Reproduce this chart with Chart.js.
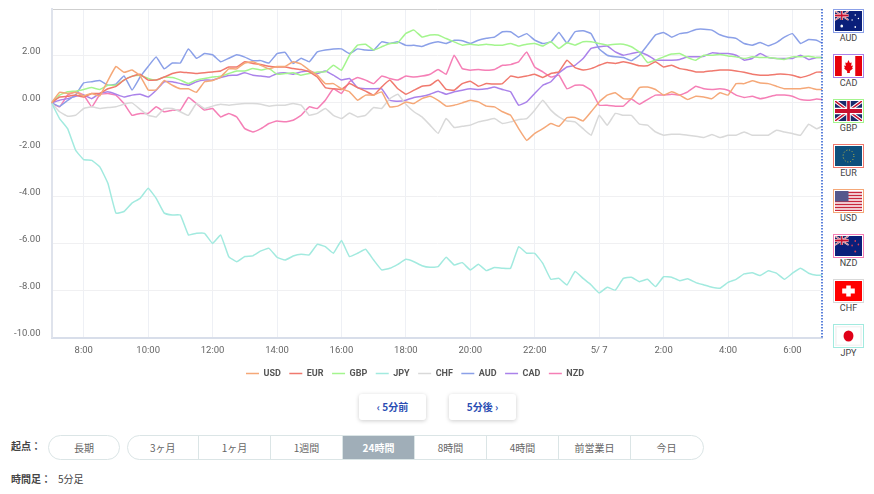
<!DOCTYPE html>
<html lang="ja">
<head>
<meta charset="utf-8">
<title>通貨強弱チャート</title>
<script src="https://cdn.jsdelivr.net/npm/chart.js"></script>
<style>
  html, body { margin: 0; padding: 0; background: #fff; overflow: hidden; }
  body { position: relative; width: 874px; height: 494px; font-family: "Noto Sans CJK JP", "Noto Sans", sans-serif; color: #555; font-size: 10px; }
  #chart { position: absolute; left: 0; top: 0; }
  .flag { position: absolute; left: 833px; width: 31px; text-align: center; }
  .flag svg { display: block; width: 27px; height: 20px; padding: 1px; border: 1px solid; background: #fff; }
  .flag span { display: block; font: 9px Roboto, sans-serif; color: #444; margin-top: -1px; line-height: 12px; }
  .btn { position: absolute; top: 394px; width: 67px; height: 26px; line-height: 25px; text-align: center; border-radius: 3px; background: #fff; box-shadow: 0 1px 4px rgba(0,0,0,.2); color: #2b4db3; font-weight: 700; }
  .lbl { position: absolute; left: 11px; font-weight: 700; color: #444; line-height: 14px; }
  .pill { position: absolute; top: 435px; height: 23px; border: 1px solid #dbe5e6; display: flex; box-sizing: content-box; line-height: 23px; text-align: center; color: #666; overflow: hidden; }
  .pill div { width: 71px; flex: none; border-right: 1px solid #dbe5e6; }
  .pill div:first-child { width: 70.5px; }
  .pill div:last-child { border-right: 0; }
  .pill .on { background: #a0aeb8; color: #fff; font-weight: 700; }
</style>
</head>
<body>
<canvas id="chart" width="826" height="388"></canvas>

<svg width="0" height="0" style="position:absolute">
  <defs>
    <g id="jack">
      <rect width="60" height="30" fill="#1a2a6c"/>
      <path d="M0 0L60 30M60 0L0 30" stroke="#fff" stroke-width="6"/>
      <path d="M0 0L60 30M60 0L0 30" stroke="#c8102e" stroke-width="2.4"/>
      <path d="M30 0V30M0 15H60" stroke="#fff" stroke-width="10"/>
      <path d="M30 0V30M0 15H60" stroke="#c8102e" stroke-width="6"/>
    </g>
  </defs>
</svg>

<div class="flag" style="top:9px"><svg viewBox="0 0 60 40" preserveAspectRatio="none" id="f0"><rect width="60" height="40" fill="#0a1f7a"/><g transform="scale(.5 .6)"><use href="#jack"/></g><g fill="#fff"><circle cx="15" cy="30" r="3"/><circle cx="45" cy="8" r="1.6"/><circle cx="38" cy="18" r="1.6"/><circle cx="52" cy="15" r="1.6"/><circle cx="45" cy="32" r="1.8"/></g></svg><span>AUD</span></div>
<div class="flag" style="top:54px"><svg viewBox="0 0 60 40" preserveAspectRatio="none"><rect width="60" height="40" fill="#fff"/><rect width="15" height="40" fill="#e8000b"/><rect x="45" width="15" height="40" fill="#e8000b"/><path d="M30 8l3 6 4-1-1 7 4-1-2 5 2 1-7 5v4h-6v-4l-7-5 2-1-2-5 4 1-1-7 4 1z" fill="#e8000b"/></svg><span>CAD</span></div>
<div class="flag" style="top:99px"><svg viewBox="0 0 60 30" preserveAspectRatio="none"><use href="#jack"/></svg><span>GBP</span></div>
<div class="flag" style="top:144px"><svg viewBox="0 0 60 40" preserveAspectRatio="none"><rect width="60" height="40" fill="#0d4f7c"/><circle cx="30" cy="20" r="12" fill="none" stroke="#d6c23a" stroke-width="2" stroke-dasharray="2 4.3"/></svg><span>EUR</span></div>
<div class="flag" style="top:189px"><svg viewBox="0 0 60 40" preserveAspectRatio="none"><rect width="60" height="40" fill="#fff"/><path d="M0 3H60M0 9H60M0 15H60M0 21H60M0 27H60M0 33H60M0 39H60" stroke="#c8283c" stroke-width="3"/><rect width="30" height="21" fill="#55588c"/></svg><span>USD</span></div>
<div class="flag" style="top:234px"><svg viewBox="0 0 60 40" preserveAspectRatio="none"><rect width="60" height="40" fill="#0a1f7a"/><g transform="scale(.5 .6)"><use href="#jack"/></g><g fill="#d8405a"><circle cx="45" cy="10" r="1.8"/><circle cx="38" cy="19" r="1.8"/><circle cx="52" cy="17" r="1.8"/><circle cx="45" cy="31" r="2.2"/></g></svg><span>NZD</span></div>
<div class="flag" style="top:279px"><svg viewBox="0 0 60 40" preserveAspectRatio="none"><rect width="60" height="40" fill="#f00"/><path d="M25 9h10v6h9v10h-9v6H25v-6h-9V15h9z" fill="#fff"/></svg><span>CHF</span></div>
<div class="flag" style="top:324px"><svg viewBox="0 0 60 40" preserveAspectRatio="none"><rect width="60" height="40" fill="#f4f4f4"/><rect x="4" y="3" width="52" height="34" fill="#fff"/><circle cx="30" cy="20" r="11" fill="#e00018"/></svg><span>JPY</span></div>

<div class="btn" style="left:359px">‹ 5分前</div>
<div class="btn" style="left:449px">5分後 ›</div>

<div class="lbl" style="top:439px">起点：</div>
<div class="pill" style="left:48px;width:70px;border-radius:13px"><div style="border:0;width:70px">長期</div></div>
<div class="pill" style="left:126.5px;width:575px;border-radius:13px">
  <div>3ヶ月</div><div>1ヶ月</div><div>1週間</div><div class="on">24時間</div><div>8時間</div><div>4時間</div><div>前営業日</div><div>今日</div>
</div>
<div class="lbl" style="top:472px">時間足：</div>
<div class="lbl" style="top:472px;left:58px;font-weight:400">5分足</div>

<script>
// minutes after 7:00, sampled every 15 min and the last 5 min bar
const times = [0,15,30,45,60,75,90,105,120,135,150,165,180,195,210,225,240,255,270,285,300,315,330,345,360,375,390,405,420,
  435,450,465,480,495,510,525,540,555,570,585,600,615,630,645,660,675,690,705,720,735,750,765,780,795,810,825,840,855,870,885,900,915,930,945,960,
  975,990,1005,1020,1035,1050,1065,1080,1095,1110,1125,1140,1155,1170,1185,1200,1215,1230,1245,1260,1275,1290,1305,1320,1335,1350,1365,1380,1395,1410,1425,1435];

const usdValues = [0,.45,.4,.45,.3,.4,.3,.95,1.55,1.3,1.4,1.15,.55,.55,.95,.75,.6,.6,.45,.9,.95,1.1,1.45,1.45,1.7,1.75,1.6,1.45,1.55,
  1.55,1.75,1.65,1.4,1.18,.82,.82,.6,.47,.11,.33,.33,.47,-.17,-.14,.04,-.03,.18,.28,.11,-.14,-.1,0,.11,.04,-.14,-.17,-.38,-.53,-1.1,-1.6,-1.3,-1.1,-.88,-1,-.63,
  -.62,-.77,-.38,.04,.33,.43,.18,.18,.65,.68,.57,.33,.47,.33,.14,.28,.25,.18,.43,.33,.82,.82,.94,.85,.82,.71,.6,.6,.6,.65,.57,.57];

const eurValues = [0,.25,.28,.33,.25,.4,.4,.6,.7,.97,1.13,1.22,.97,.97,1.1,1.25,1.32,1.28,1.25,1.28,1.32,1.36,1.53,1.53,1.75,1.68,1.63,1.56,1.53,
  1.53,1.46,1.42,1.32,1.1,.65,.6,.57,.82,.65,.5,.33,.68,.97,.6,.37,.54,.71,.75,.97,.57,.54,.82,.92,.71,.82,.8,.82,1.14,1.08,1.14,1.22,1.08,1.25,1.32,1.82,
  1.5,1.4,1.46,1.6,1.72,1.68,1.75,1.68,1.58,1.58,1.75,1.53,1.6,1.46,1.4,1.32,1.32,1.36,1.4,1.4,1.36,1.3,1.22,1.18,1.18,1.22,1.22,1.18,1.08,1.17,1.31,1.32];

const gbpValues = [0,.33,.47,.5,.57,.65,.57,.75,.75,.97,1.14,1.18,1.04,.97,1.1,1.08,.97,.82,.97,1.04,1.1,1.14,1.25,1.36,1.36,1.46,1.4,1.46,1.22,
  1.25,1.28,1.18,1.25,1.32,1.32,1.6,1.39,2.03,2.46,2.5,2.25,2.39,2.53,2.56,2.96,3.1,2.81,2.89,2.89,2.74,2.6,2.46,2.5,2.46,2.5,2.46,2.46,2.53,2.42,2.5,2.53,2.42,2.6,2.32,2.56,
  2.46,2.6,2.6,2.53,2.46,2.5,2.5,2.39,2.17,1.72,1.82,1.96,2.08,2.1,1.93,1.82,2.03,2.03,2.06,2,1.96,1.89,1.96,1.93,1.93,1.89,1.85,1.96,1.96,1.99,1.93,1.93];

const jpyValues = [0,-.67,-1.1,-2.02,-2.42,-2.45,-2.73,-3.43,-4.7,-4.63,-4.27,-4.07,-3.64,-4.07,-4.7,-4.78,-4.78,-5.63,-5.56,-5.56,-5.99,-5.63,-6.55,-6.77,-6.55,-6.52,-6.31,-6.2,-6.58,
  -6.7,-6.53,-6.45,-6.48,-6.03,-6.13,-6.41,-5.87,-6.55,-6.41,-6.24,-6.7,-7.12,-7.05,-6.88,-6.67,-6.77,-6.94,-7.01,-6.98,-6.58,-6.91,-6.81,-7.12,-6.88,-7.15,-7.02,-7.05,-7.05,-6.13,-6.41,-6.41,-6.84,-7.52,-7.48,-7.76,
  -7.19,-7.48,-7.76,-8.1,-7.86,-7.98,-7.48,-7.43,-7.62,-7.52,-7.83,-7.41,-7.43,-7.58,-7.5,-7.66,-7.76,-7.86,-7.9,-7.65,-7.52,-7.29,-7.24,-7.36,-7.16,-7.26,-7.52,-7.26,-7.05,-7.26,-7.35,-7.34];

const chfValues = [0,-.38,-.57,-.53,-.24,-.17,-.24,-.2,-.17,-.06,0,-.28,-.53,-.6,-.24,-.24,-.38,-.53,-.03,-.24,-.14,-.06,-.1,-.06,-.03,-.03,-.06,-.14,-.1,
  -.1,-.03,-.1,-.53,-.45,-.24,-.53,-.67,-.43,-.6,-.53,-.2,-.24,.18,.37,-.06,-.38,-.6,-.95,-1.3,-.67,-1.05,-1,-.95,-.81,-.74,-.67,-.88,-.81,-.71,-.67,-.31,.11,-.31,-.6,-.77,
  -.81,-1.1,-1.38,-.53,-.95,-.45,-.53,-.53,-.91,-.95,-1.24,-1.38,-1.34,-1.34,-1.38,-1.42,-1.48,-1.35,-1.48,-1.38,-1.38,-1.24,-1.38,-1.38,-1.38,-1.17,-1.24,-1.31,-1.38,-.91,-1.1,-1];

const audValues = [0,-.15,.1,.35,.85,.9,.95,.75,.8,1.15,.55,1.1,1.55,1.95,1.45,1.7,1.7,2.3,1.9,2.1,2.05,1.75,1.9,2.05,1.95,1.8,1.8,1.7,2.1,
  2.15,1.68,1.9,1.75,2.17,2.25,2.3,2.3,2.1,2.3,2.25,2.25,2.6,2.53,2.6,2.45,2.45,2.4,2.53,2.6,2.53,2.67,2.65,2.53,2.67,2.75,2.8,3.03,3.03,2.8,2.95,2.67,2.53,2.6,3,2.55,
  3.03,3.07,2.95,2.3,2.03,1.96,1.93,1.8,2.03,2.46,2.9,3,2.8,2.95,3,3.13,3.14,3.1,2.9,2.8,2.75,2.53,2.46,2.57,2.43,2.57,2.8,2.95,2.53,2.7,2.67,2.55];

const cadValues = [0,.11,.18,.28,.33,.18,.4,.47,.37,.25,.33,.37,.25,.54,.9,.9,.82,.75,.9,.97,.97,1.08,1.17,1.18,1.28,1.18,1.14,1.1,1.25,
  1.28,1.22,1.32,1.36,1.25,1.36,1.18,.97,1.04,.65,.6,.6,.6,.11,.07,.11,.23,.28,.37,.5,.37,.47,.54,.6,.57,.6,.68,.57,.47,-.1,.04,.4,.75,.9,1.28,1.53,
  1.6,1.89,2.32,2.39,2.42,2.17,2.03,2.1,2.17,2.03,1.82,1.82,1.82,1.85,1.96,1.96,1.99,2.13,2.1,2.1,2.03,1.82,1.89,2.1,1.93,1.89,1.89,1.89,2.03,1.85,1.93,1.93];

const nzdValues = [0,-.17,.33,.47,.33,-.17,.35,.4,.33,-.03,-.53,-.45,-.45,-.17,-.38,-.31,-.31,.23,-.03,-.31,-.24,-.6,-.45,-.6,-1.1,-1.24,-1.1,-.88,-.77,
  -.81,-.74,-.53,-.17,-.24,.11,.6,.4,.9,1.08,.97,.82,1.14,1.04,.97,1.14,1.1,1.14,1.22,1.42,1.22,2.03,1.46,1.39,1.42,1.39,1.42,1.6,1.63,1.75,2.17,1.53,1.32,1.1,1.18,.6,
  .75,.75,.54,-.1,-.1,-.14,-.14,.16,-.06,.14,.33,.33,.37,.33,.47,.71,.6,.57,.6,.54,.33,.23,.28,.18,.25,.33,.33,.28,.14,.11,.16,.14];

const seriesNames = ['USD', 'EUR', 'GBP', 'JPY', 'CHF', 'AUD', 'CAD', 'NZD'];
const seriesValues = [usdValues, eurValues, gbpValues, jpyValues, chfValues, audValues, cadValues, nzdValues];
const seriesColors = ['#f5a878', '#f0796e', '#a4f58e', '#a2eadf', '#d9d9d9', '#8ba0e8', '#aa82ea', '#f57fb6'];

const xTickMinutes = [60, 180, 300, 420, 540, 660, 780, 900, 1020, 1140, 1260, 1380];
const xTickLabels = ['8:00', '10:00', '12:00', '14:00', '16:00', '18:00', '20:00', '22:00', '5/ 7', '2:00', '4:00', '6:00'];

// flag frames take the colour of their series
document.querySelectorAll('.flag').forEach(function (el) {
  const name = el.querySelector('span').textContent;
  el.querySelector('svg').style.borderColor = seriesColors[seriesNames.indexOf(name)];
});

// dotted marker on the newest bar
const latestLine = {
  id: 'latestLine',
  afterDraw(chart) {
    const c = chart.ctx, x = chart.scales.x.getPixelForValue(times[times.length - 1]);
    c.save();
    c.strokeStyle = '#2a5bd0';
    c.lineWidth = 1.5;
    c.setLineDash([1.5, 1.5]);
    c.beginPath();
    c.moveTo(x, chart.chartArea.top);
    c.lineTo(x, chart.chartArea.bottom);
    c.stroke();
    c.restore();
  }
};

new Chart(document.getElementById('chart'), {
  type: 'line',
  plugins: [latestLine],
  data: {
    datasets: seriesNames.map(function (name, i) {
      return {
        label: name,
        data: times.map(function (t, k) { return { x: t, y: seriesValues[i][k] }; }),
        borderColor: seriesColors[i],
        backgroundColor: seriesColors[i],
        borderWidth: 1.5,
        pointRadius: 0,
        tension: 0.1
      };
    })
  },
  options: {
    responsive: false,
    animation: false,
    layout: { padding: { top: 9, right: 4, left: 8, bottom: 0 } },
    plugins: {
      tooltip: { enabled: false },
      legend: {
        position: 'bottom',
        labels: {
          boxWidth: 13,
          boxHeight: 0,
          padding: 8.5,
          color: '#555',
          font: { family: 'Roboto, sans-serif', size: 9, weight: '700' }
        }
      }
    },
    scales: {
      x: {
        type: 'linear',
        min: 0,
        max: 1435,
        afterBuildTicks(axis) { axis.ticks = xTickMinutes.map(function (v) { return { value: v }; }); },
        afterFit(axis) { axis.height = 23; },
        grid: { color: '#eef0f5', lineWidth: 1, tickLength: 0 },
        border: { color: '#d8deea', width: 2 },
        ticks: {
          maxRotation: 0,
          autoSkip: false,
          padding: 7,
          color: '#666',
          font: { family: 'Roboto, sans-serif', size: 9.5 },
          callback(v) { return xTickLabels[xTickMinutes.indexOf(v)]; }
        }
      },
      y: {
        min: -10,
        max: 4,
        // tick padding would otherwise push the plot area down
        afterFit(axis) { axis.width = 43.5; axis.paddingTop = 0; },
        grid: {
          tickLength: 0,
          lineWidth: 1,
          color(ctx) { return ctx.tick.value === 4 ? '#cfcfcf' : '#f0f0f2'; }
        },
        border: { color: '#dfe3ec', width: 2 },
        ticks: {
          stepSize: 2,
          padding: 11,
          labelOffset: -4,
          color: '#666',
          font: { family: 'Roboto, sans-serif', size: 9.5 },
          callback(v) { return v === 4 ? '' : v.toFixed(2); }
        }
      }
    }
  }
});
</script>
</body>
</html>
